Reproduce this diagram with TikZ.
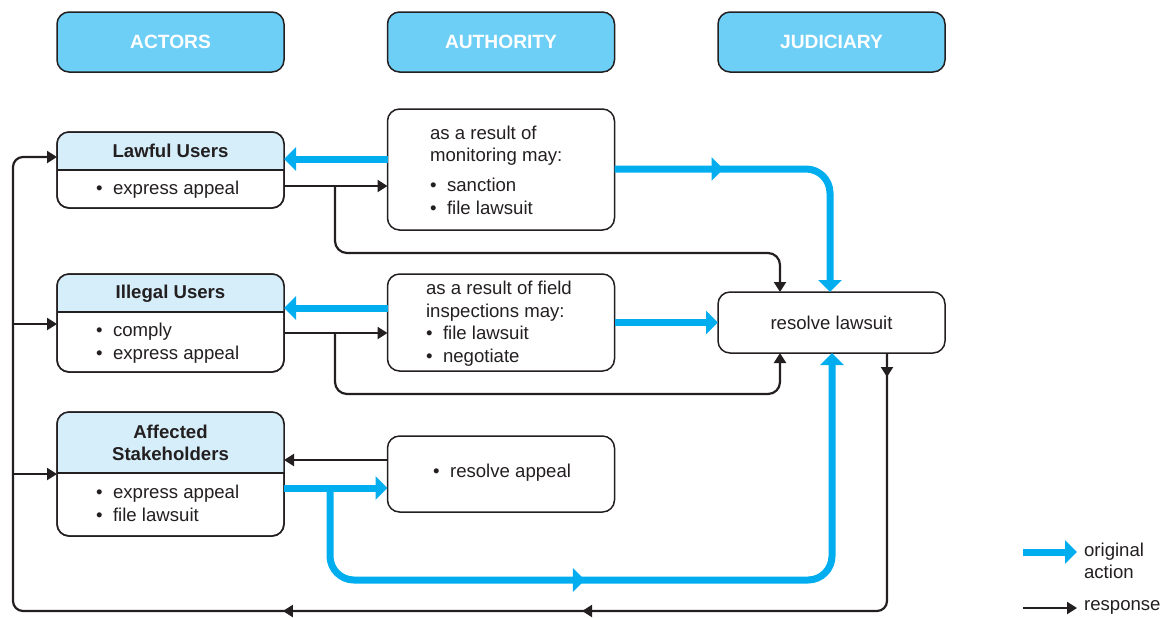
\documentclass[tikz,border=0pt]{standalone}
\usepackage{fontspec}
\setmainfont{Liberation Sans}
\usetikzlibrary{arrows.meta,decorations.markings}
\definecolor{hdrblue}{HTML}{6DCFF6}
\definecolor{actblue}{HTML}{D5EEFA}
\definecolor{origblue}{HTML}{00AEEF}
\definecolor{inkgray}{HTML}{231F20}
\newcommand{\blt}{\makebox[8.5pt][l]{\textbullet}}

\begin{document}
\begin{tikzpicture}[x=0.5pt,y=-0.5pt,
  every node/.style={text=inkgray, font=\fontsize{9.3}{11.3}\selectfont},
  hdrbox/.style={draw=inkgray, line width=0.75pt, fill=hdrblue, rounded corners=6pt,
    minimum width=113.5pt, minimum height=30pt, text=white, font=\fontsize{9.6}{11.5}\selectfont\bfseries},
  panel/.style={draw=inkgray, line width=0.75pt, rounded corners=6pt, minimum width=113.5pt, outer sep=0pt},
  ttl/.style={align=center, font=\fontsize{9.3}{11.3}\selectfont\bfseries},
  txt/.style={anchor=west, align=left},
  orig/.style={draw, color=origblue, line width=3.5pt, -{Triangle[length=6pt,width=11.5pt]}},
  resp/.style={draw, color=inkgray, line width=1.1pt, -{Triangle[length=5pt,width=6pt]}},
  bluetip/.style={postaction={decorate, decoration={markings,
    mark=at position #1 with {\arrow{Triangle[length=6pt,width=11.5pt]}}}}}]
\useasboundingbox (0,0) rectangle (1165,617);

\node[hdrbox] (actors) at (170.5,42) {ACTORS};
\node[hdrbox] (authority) at (501,42) {AUTHORITY};
\node[hdrbox] (judiciary) at (831.5,42) {JUDICIARY};

\node[panel, minimum height=38pt] (lawful) at (170.5,170) {};
\node[panel, minimum height=49pt] (illegal) at (170.5,323) {};
\node[panel, minimum height=62pt] (affected) at (170.5,474) {};
\node[panel, minimum height=60.5pt] (monitor) at (501,169.5) {};
\node[panel, minimum height=48.5pt] (inspect) at (501,322.5) {};
\node[panel, minimum height=38pt] (appeal) at (501,474) {};
\node[panel, minimum height=30.5pt] (resolve) at (831.5,322.5) {resolve lawsuit};

\foreach \n/\y in {lawful/170, illegal/312, affected/473}{
  \begin{scope}
    \clip[rounded corners=6pt] (\n.north west) rectangle (\n.south east);
    \fill[actblue] (\n.north west) rectangle (\n.east |- 0,\y);
  \end{scope}
  \draw[inkgray, line width=0.75pt, rounded corners=6pt] (\n.north west) rectangle (\n.south east);
  \draw[inkgray, line width=0.75pt] (\n.west |- 0,\y) -- (\n.east |- 0,\y);
}

\node[ttl] (lawfulttl) at (170.5,151) {Lawful Users};
\node[ttl] (illegalttl) at (170.5,294) {Illegal Users};
\node[ttl] (affectedttl) at (170.5,443) {Affected\\Stakeholders};
\node[txt] (lawfultxt) at (89,190) {\blt express appeal};
\node[txt] (illegaltxt) at (89,343) {\blt comply\\\blt express appeal};
\node[txt] (affectedtxt) at (89,503.5) {\blt express appeal\\\blt file lawsuit};
\node[txt] (monitortxt) at (423,170) {as a result of\\monitoring may:\\[3.5pt]\blt sanction\\\blt file lawsuit};
\node[txt] (inspecttxt) at (419,323.5) {as a result of field\\inspections may:\\\blt file lawsuit\\\blt negotiate};
\node[txt] (appealtxt) at (426,473) {\blt resolve appeal};

% lawful users
\draw[orig] (monitor.west |- 0,159) -- (lawful.east |- 0,159);
\draw[resp] (lawful.east |- 0,186) -- (monitor.west |- 0,186);
\coordinate (lawfulfork) at (335,186);
\draw[resp, rounded corners=6pt] (lawfulfork) |- (780,253) -- (resolve.north -| 780,0);
\draw[orig, rounded corners=12pt, bluetip=54.5pt] (monitor.east |- 0,169) -| (resolve.north -| 830,0);

% illegal users
\draw[orig] (inspect.west |- 0,308) -- (illegal.east |- 0,308);
\draw[resp] (illegal.east |- 0,333) -- (inspect.west |- 0,333);
\coordinate (illegalfork) at (335,333);
\draw[resp, rounded corners=6pt] (illegalfork) |- (780,394) -- (resolve.south -| 780,0);
\draw[orig] (inspect.east |- resolve.west) -- (resolve.west);

% affected stakeholders
\draw[resp] (appeal.west |- 0,460) -- (affected.east |- 0,460);
\draw[orig] (affected.east |- 0,488) -- (appeal.west |- 0,488);
\coordinate (affectedfork) at (330,488);
\draw[orig, rounded corners=12pt, bluetip=168.3pt] (affectedfork) |- (832,580) -- (resolve.south -| 832,0);

% response back to the actors
\draw[resp, rounded corners=5pt, postaction={decorate, decoration={markings,
    mark=at position 12pt with {\arrow{Triangle[length=5pt,width=6pt]}},
    mark=at position 279.3pt with {\arrow{Triangle[length=5pt,width=6pt]}},
    mark=at position 428.9pt with {\arrow{Triangle[length=5pt,width=6pt]}}}}]
  (resolve.south -| 887,0) |- (13,611) |- (lawful.west |- 0,157);
\coordinate (illegalback) at (13,324);
\coordinate (affectedback) at (13,474);
\draw[resp] (illegalback) -- (illegal.west |- illegalback);
\draw[resp] (affectedback) -- (affected.west |- affectedback);

% legend
\coordinate (origa) at (1023,552);
\coordinate (origb) at (1077,552);
\coordinate (respa) at (1023,608);
\coordinate (respb) at (1077,608);
\draw[orig] (origa) -- (origb);
\draw[resp] (respa) -- (respb);
\node[txt] (origtxt) at (1077,561) {original\\action};
\node[txt] (resptxt) at (1077,607) {response};
\end{tikzpicture}
\end{document}
